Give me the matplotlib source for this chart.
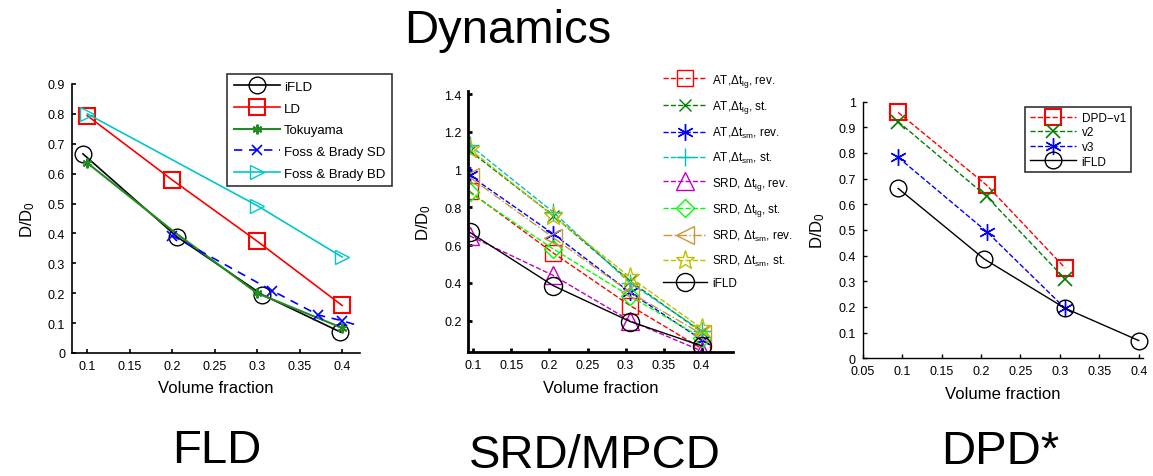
import matplotlib
matplotlib.use("Agg")
import matplotlib.pyplot as plt

plt.rcParams['font.family'] = ['Liberation Sans', 'DejaVu Sans']
plt.rcParams['mathtext.fontset'] = 'custom'
plt.rcParams['mathtext.rm'] = 'Liberation Sans'
plt.rcParams['mathtext.it'] = 'Liberation Sans'
plt.rcParams['mathtext.default'] = 'regular'

# ---- FLD panel data ----
fld_ifld_x = [0.095, 0.206, 0.306, 0.398]
fld_ifld_y = [0.666, 0.388, 0.195, 0.070]
fld_ld_x = [0.1, 0.2, 0.3, 0.4]
fld_ld_y = [0.794, 0.579, 0.374, 0.159]
fld_tok_x = [0.1, 0.2, 0.3, 0.4]
fld_tok_y = [0.636, 0.410, 0.200, 0.084]
fld_sd_x = [0.2, 0.318, 0.372, 0.4, 0.45]
fld_sd_y = [0.393, 0.208, 0.127, 0.108, 0.065]
fld_bd_x = [0.1, 0.3, 0.4]
fld_bd_y = [0.800, 0.493, 0.321]

# ---- SRD/MPCD panel data ----
srd_x = [0.095, 0.205, 0.306, 0.4]
srd_at_lg_rev = [0.885, 0.559, 0.280, 0.053]
srd_at_lg_st = [1.100, 0.757, 0.410, 0.140]
srd_at_sm_rev = [0.970, 0.660, 0.350, 0.100]
srd_at_sm_st = [1.130, 0.775, 0.400, 0.147]
srd_srd_lg_rev = [0.650, 0.440, 0.200, 0.040]
srd_srd_lg_st = [0.880, 0.580, 0.330, 0.110]
srd_srd_sm_rev = [0.960, 0.640, 0.350, 0.130]
srd_srd_sm_st = [1.110, 0.755, 0.430, 0.160]
srd_ifld_y = [0.669, 0.386, 0.196, 0.067]

# ---- DPD panel data ----
dpd_x = [0.095, 0.207, 0.3065]
dpd_v1 = [0.958, 0.675, 0.352]
dpd_v2 = [0.922, 0.631, 0.309]
dpd_v3 = [0.783, 0.494, 0.195]
dpd_ifld_x = [0.095, 0.204, 0.3065, 0.4]
dpd_ifld_y = [0.662, 0.387, 0.195, 0.069]

fig = plt.figure(figsize=(11.53, 4.77), dpi=100)


def style_axes(ax, lw=1.0):
    ax.spines['top'].set_visible(False)
    ax.spines['right'].set_visible(False)
    ax.spines['left'].set_linewidth(lw)
    ax.spines['bottom'].set_linewidth(lw)
    ax.tick_params(direction='in', labelsize=9, length=3, width=lw, pad=5)
    ax.set_xlabel('Volume fraction', fontsize=12, labelpad=6)
    ax.set_ylabel('D/D$_0$', fontsize=12, labelpad=8)


# FLD
ax1 = fig.add_axes([0.0624, 0.2579, 0.2498, 0.564])
ax1.plot(fld_ifld_x, fld_ifld_y, '-', color='black', lw=1.2, marker='o',
         ms=12, mfc='none', mew=1.0, label='iFLD')
ax1.plot(fld_ld_x, fld_ld_y, '-', color='red', lw=1.2, marker='s',
         ms=11, mfc='none', mew=1.5, label='LD')
ax1.plot(fld_tok_x, fld_tok_y, '-', color='#228b22', lw=1.5, marker=(6, 2, 0),
         ms=7, mew=1.5, markevery=[0, 2, 3], label='Tokuyama')
ax1.plot(fld_sd_x, fld_sd_y, '--', color='blue', lw=1.2, marker='x',
         ms=7, mew=1.2, dashes=(5, 4), label='Foss & Brady SD')
ax1.plot(fld_bd_x, fld_bd_y, '-', color='#00c8c8', lw=1.2, marker='>',
         ms=10, mfc='none', mew=1.0, label='Foss & Brady BD')
ax1.set_xlim(0.082, 0.421)
ax1.set_ylim(0, 0.9)
ax1.set_xticks([0.1, 0.15, 0.2, 0.25, 0.3, 0.35, 0.4])
ax1.set_xticklabels(['0.1', '0.15', '0.2', '0.25', '0.3', '0.35', '0.4'])
ax1.set_yticks([0, 0.1, 0.2, 0.3, 0.4, 0.5, 0.6, 0.7, 0.8, 0.9])
ax1.set_yticklabels(['0', '0.1', '0.2', '0.3', '0.4', '0.5', '0.6', '0.7', '0.8', '0.9'])
style_axes(ax1, lw=1.2)
leg1 = ax1.legend(loc='upper left', bbox_to_anchor=(227 / 1153, 1 - 75 / 477),
                  bbox_transform=fig.transFigure, fontsize=9.5, frameon=True,
                  fancybox=False, edgecolor='black', handlelength=3.5,
                  borderpad=0.5, labelspacing=0.72, handletextpad=0.3,
                  borderaxespad=0)
leg1.get_frame().set_linewidth(1.2)

# SRD/MPCD
ax2 = fig.add_axes([0.4062, 0.2593, 0.2298, 0.5484])
srd_series = [
    (srd_at_lg_rev, 'red', 's', '--', 11, 'AT,$\\Delta$t$_{lg}$, rev.'),
    (srd_at_lg_st, '#008000', 'x', '--', 9, 'AT,$\\Delta$t$_{lg}$, st.'),
    (srd_at_sm_rev, 'blue', (6, 2, 0), '--', 12, 'AT,$\\Delta$t$_{sm}$, rev.'),
    (srd_at_sm_st, '#00bfbf', '+', '--', 13, 'AT,$\\Delta$t$_{sm}$, st.'),
    (srd_srd_lg_rev, '#bf00bf', '^', '--', 13, 'SRD, $\\Delta$t$_{lg}$, rev.'),
    (srd_srd_lg_st, '#00ff00', 'D', '--', 9, 'SRD, $\\Delta$t$_{lg}$, st.'),
    (srd_srd_sm_rev, '#c8963c', '<', '-.', 13, 'SRD, $\\Delta$t$_{sm}$, rev.'),
    (srd_srd_sm_st, '#bfbf00', '*', '--', 14, 'SRD, $\\Delta$t$_{sm}$, st.'),
]
for ys, c, m, ls, ms, lab in srd_series:
    ax2.plot(srd_x, ys, ls, color=c, lw=1.0, marker=m, ms=ms, mfc='none',
             mew=1.0, label=lab)
ax2.plot(srd_x, srd_ifld_y, '-', color='black', lw=1.0, marker='o', ms=13,
         mfc='none', mew=1.0, label='iFLD')
ax2.set_xlim(0.0934, 0.4416)
ax2.set_ylim(0.033, 1.418)
ax2.set_xticks([0.1, 0.15, 0.2, 0.25, 0.3, 0.35, 0.4])
ax2.set_xticklabels(['0.1', '0.15', '0.2', '0.25', '0.3', '0.35', '0.4'])
ax2.set_yticks([0.2, 0.4, 0.6, 0.8, 1.0, 1.2, 1.4])
ax2.set_yticklabels(['0.2', '0.4', '0.6', '0.8', '1', '1.2', '1.4'])
style_axes(ax2, lw=2.0)
ax2.legend(loc='upper left', bbox_to_anchor=(652 / 1153, 1 - 62 / 477),
           bbox_transform=fig.transFigure, fontsize=8.5, frameon=False,
           handlelength=3.8, labelspacing=0.82, handletextpad=0.4)

# DPD
ax3 = fig.add_axes([0.7482, 0.2468, 0.2429, 0.538])
ax3.plot(dpd_x, dpd_v1, '--', color='red', lw=1.0, marker='s', ms=11,
         mfc='none', mew=1.5, label='DPD\u2212v1')
ax3.plot(dpd_x, dpd_v2, '--', color='#008000', lw=1.0, marker='x', ms=10,
         mew=1.2, label='v2')
ax3.plot(dpd_x, dpd_v3, '--', color='blue', lw=1.0, marker=(6, 2, 0), ms=12,
         mew=1.0, label='v3')
ax3.plot(dpd_ifld_x, dpd_ifld_y, '-', color='black', lw=1.0, marker='o',
         ms=12, mfc='none', mew=1.0, label='iFLD', clip_on=False)
ax3.set_xlim(0.052, 0.405)
ax3.set_ylim(0, 1)
ax3.set_xticks([0.05, 0.1, 0.15, 0.2, 0.25, 0.3, 0.35, 0.4])
ax3.set_xticklabels(['0.05', '0.1', '0.15', '0.2', '0.25', '0.3', '0.35', '0.4'])
ax3.set_yticks([0, 0.1, 0.2, 0.3, 0.4, 0.5, 0.6, 0.7, 0.8, 0.9, 1.0])
ax3.set_yticklabels(['0', '0.1', '0.2', '0.3', '0.4', '0.5', '0.6', '0.7', '0.8', '0.9', '1'])
style_axes(ax3, lw=1.0)
leg3 = ax3.legend(loc='upper left', bbox_to_anchor=(1025 / 1153, 1 - 108 / 477),
                  bbox_transform=fig.transFigure, fontsize=8.5, frameon=True,
                  fancybox=False, edgecolor='black', handlelength=3.9,
                  borderpad=0.4, labelspacing=0.22, handletextpad=0.5,
                  borderaxespad=0)
leg3.get_frame().set_linewidth(1.2)

# headings
fig.text(508 / 1153, 1 - 43 / 477, 'Dynamics', fontsize=34, ha='center', va='baseline')
fig.text(217 / 1153, 1 - 463 / 477, 'FLD', fontsize=34, ha='center', va='baseline')
fig.text(595 / 1153, 1 - 468 / 477, 'SRD/MPCD', fontsize=34, ha='center', va='baseline')
fig.text(1000 / 1153, 1 - 464 / 477, 'DPD*', fontsize=34, ha='center', va='baseline')

fig.savefig('out.png', dpi=100)
